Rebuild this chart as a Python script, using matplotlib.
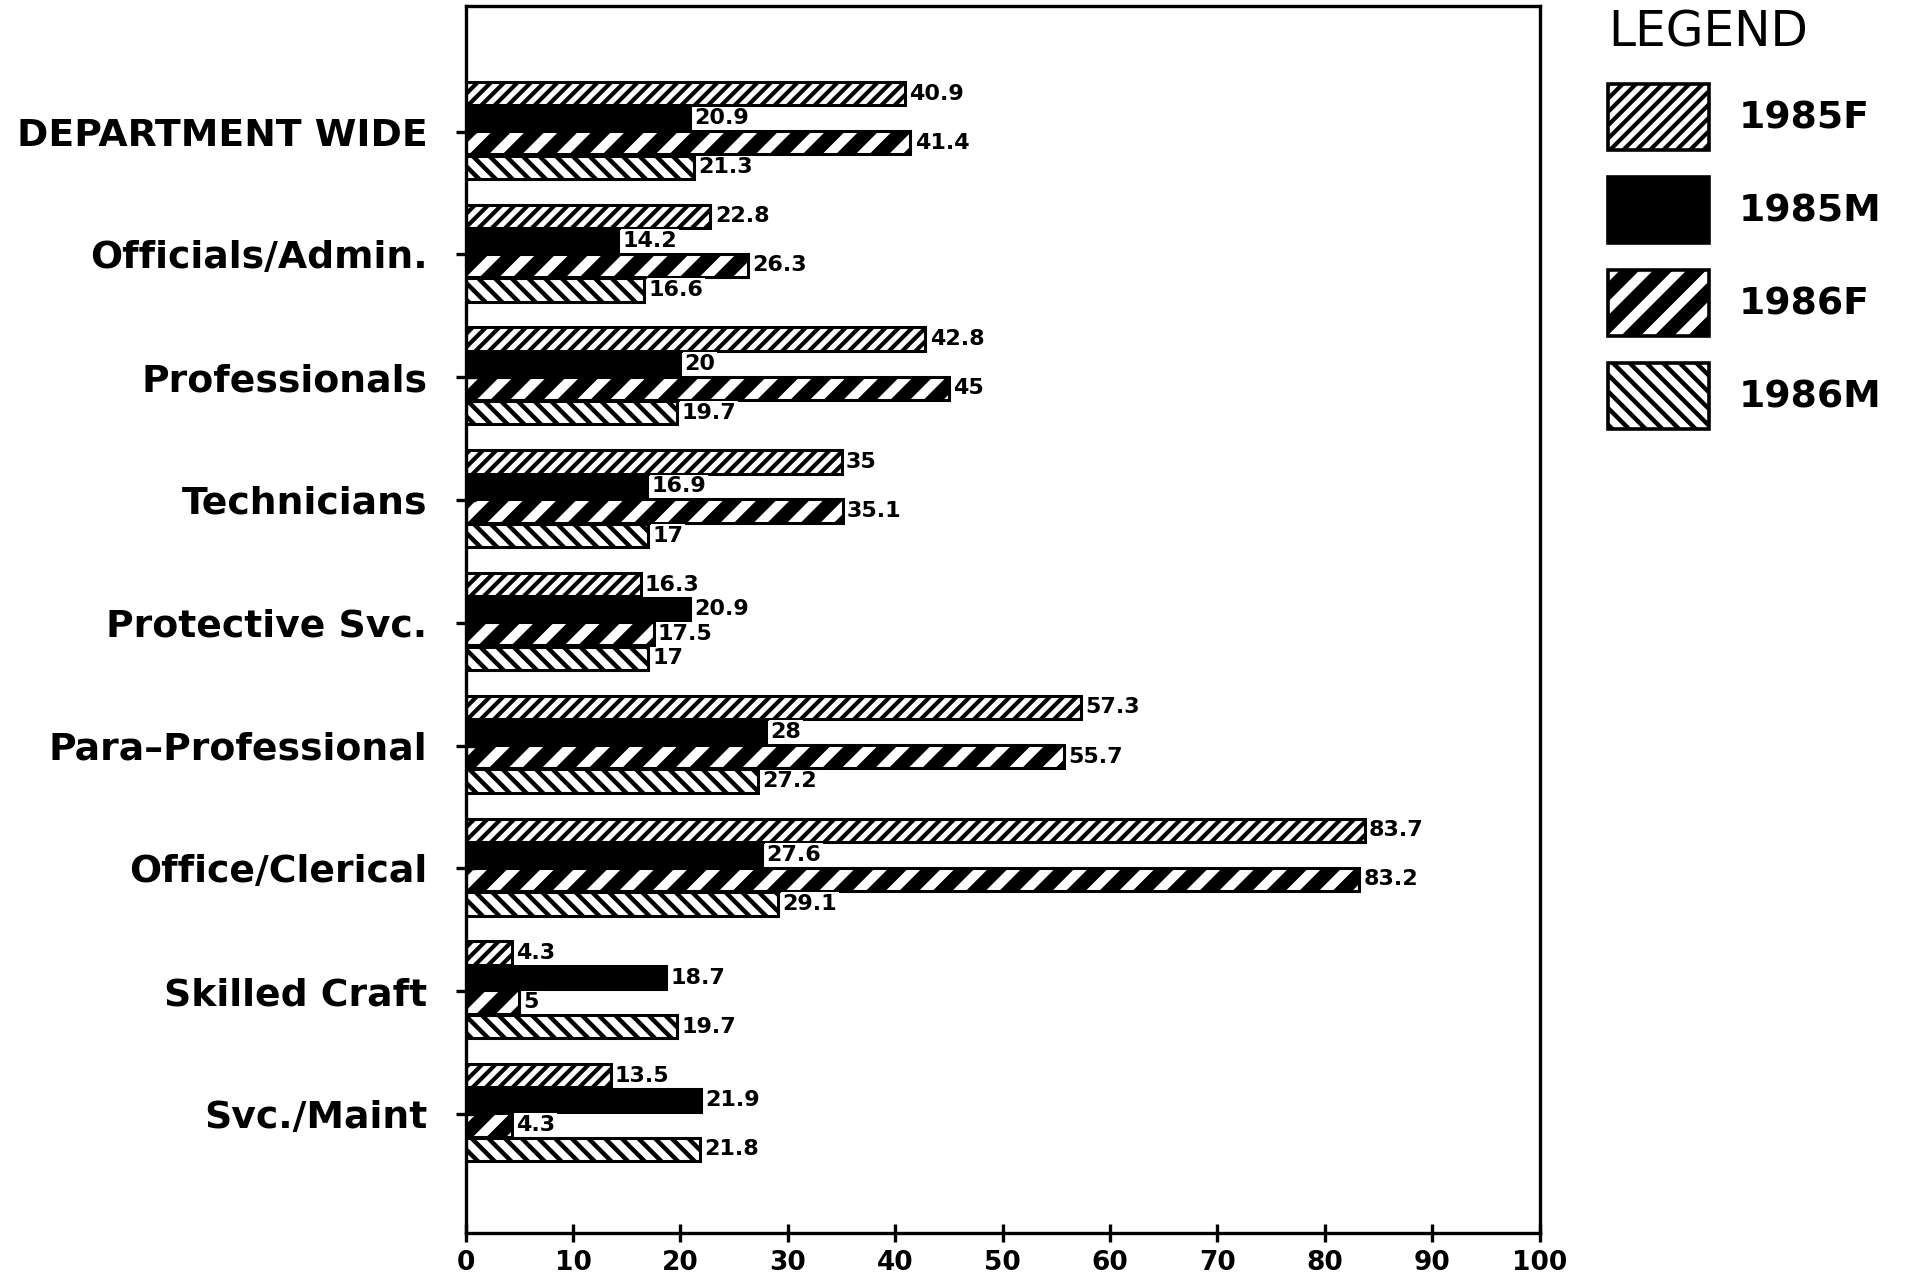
import matplotlib
matplotlib.use('Agg')
import matplotlib.pyplot as plt
from matplotlib.patches import Patch

# data
categories = ['DEPARTMENT WIDE', 'Officials/Admin.', 'Professionals', 'Technicians',
              'Protective Svc.', 'Para\u2013Professional', 'Office/Clerical',
              'Skilled Craft', 'Svc./Maint']
f1985 = [40.9, 22.8, 42.8, 35, 16.3, 57.3, 83.7, 4.3, 13.5]
m1985 = [20.9, 14.2, 20, 16.9, 20.9, 28, 27.6, 18.7, 21.9]
f1986 = [41.4, 26.3, 45, 35.1, 17.5, 55.7, 83.2, 5, 4.3]
m1986 = [21.3, 16.6, 19.7, 17, 17, 27.2, 29.1, 19.7, 21.8]
series_names = ['1985F', '1985M', '1986F', '1986M']
xticks = [0, 10, 20, 30, 40, 50, 60, 70, 80, 90, 100]

series = [f1985, m1985, f1986, m1986]
# fill, hatch, hatch linewidth
styles = [('white', '/////', 1.5),
          ('black', None, 1.0),
          ('white', '//', 5.0),
          ('white', '\\\\\\\\', 1.6)]
offsets = [-0.31, -0.11, 0.09, 0.29]
bar_h = 0.19

plt.rcParams['font.family'] = 'DejaVu Sans'
fig, ax = plt.subplots(figsize=(9.54, 6.395), dpi=200)
fig.subplots_adjust(left=0.244, right=0.807, bottom=0.036, top=0.995)

ypos = list(range(len(categories)))
for vals, (fc, hatch, hlw), off in zip(series, styles, offsets):
    plt.rcParams['hatch.linewidth'] = hlw
    bars = ax.barh([y + off for y in ypos], vals, height=bar_h, color=fc,
                   edgecolor='black', linewidth=1.1, hatch=hatch)
    for b in bars:
        if hasattr(b, 'set_hatch_linewidth'):
            b.set_hatch_linewidth(hlw)
    for y, v in zip(ypos, vals):
        ax.text(v + 0.4, y + off, f'{v:g}', ha='left', va='center',
                fontsize=8, fontweight='bold',
                bbox=dict(facecolor='white', edgecolor='none', pad=0.6))

ax.set_ylim(8.97, -1.02)
ax.set_xlim(0, 100)
ax.set_yticks(ypos)
ax.set_yticklabels(categories, fontsize=13.6, fontweight='bold')
ax.set_xticks(xticks)
ax.set_xticklabels([str(t) for t in xticks], fontsize=9.5, fontweight='bold')
ax.tick_params(axis='y', direction='inout', length=7.5, width=1.2, pad=10)
ax.tick_params(axis='x', direction='inout', length=6.5, width=1.2, pad=3)
for s in ax.spines.values():
    s.set_linewidth(1.2)

# legend
handles = []
for (fc, hatch, hlw), name in zip(styles, series_names):
    plt.rcParams['hatch.linewidth'] = hlw
    handles.append(Patch(facecolor=fc, edgecolor='black', linewidth=1.3,
                         hatch=hatch, label=name))
leg = fig.legend(handles=handles, loc='upper left', bbox_to_anchor=(0.843, 0.993),
                 frameon=False, title='LEGEND', title_fontsize=17.5,
                 prop={'size': 13.6, 'weight': 'bold'},
                 handlelength=2.65, handleheight=2.3, labelspacing=0.72,
                 handletextpad=0.8, borderaxespad=0, borderpad=0,
                 alignment='left')
for p, (fc, hatch, hlw) in zip(leg.get_patches(), styles):
    if hasattr(p, 'set_hatch_linewidth'):
        p.set_hatch_linewidth(hlw)

fig.savefig('out.png', dpi=200)
